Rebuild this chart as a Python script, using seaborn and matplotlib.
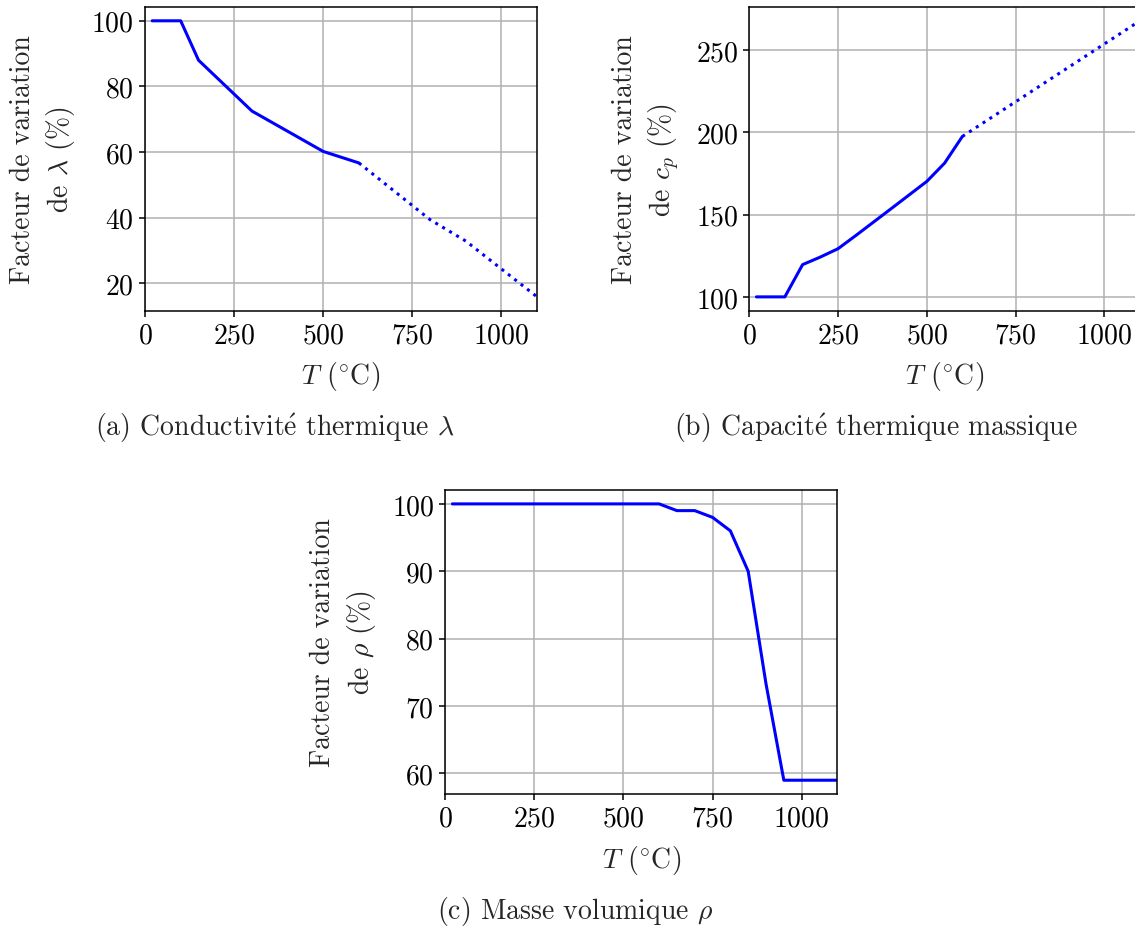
import numpy as np
import matplotlib
matplotlib.use("Agg")
import matplotlib.pyplot as plt
import seaborn as sns

# ── data (T in °C, factor in %) ─────────────────────────────────────
T_lam_solid = [20, 100, 150, 300, 500, 600]
lam_solid = [100, 100, 88, 72.5, 60.2, 56.7]
T_lam_dot = [600, 800, 900, 1100]
lam_dot = [56.7, 39.4, 32.9, 15.9]

T_cp_solid = [20, 100, 150, 200, 250, 300, 400, 500, 550, 600]
cp_solid = [100, 100, 119.6, 124.2, 129.3, 137.3, 153.7, 170.2, 181.3, 197.5]
T_cp_dot = [600, 1100]
cp_dot = [197.5, 267.8]

T_rho = [20, 600, 650, 700, 750, 800, 850, 900, 950, 1100]
rho = [100, 100, 99, 99, 98, 96, 90, 73.3, 59, 59]

x_ticks = [0, 250, 500, 750, 1000]
lam_ticks = [20, 40, 60, 80, 100]
cp_ticks = [100, 150, 200, 250]
rho_ticks = [60, 70, 80, 90, 100]

# é drawn through mathtext: cmr10 has no proper glyph for it
e_acc = r"$\mathrm{\acute{e}}$"
captions = ["(a) Conductivit" + e_acc + " thermique $\\lambda$",
            "(b) Capacit" + e_acc + " thermique massique",
            "(c) Masse volumique $\\rho$"]

# ── style ───────────────────────────────────────────────────────────
sns.set_style("ticks")
plt.rcParams["font.family"] = ["cmr10", "DejaVu Serif"]
plt.rcParams["mathtext.fontset"] = "cm"
plt.rcParams["axes.formatter.use_mathtext"] = True
plt.rcParams["font.size"] = 20
plt.rcParams["axes.linewidth"] = 1.1
plt.rcParams["axes.edgecolor"] = "black"
plt.rcParams["xtick.color"] = "black"
plt.rcParams["ytick.color"] = "black"
plt.rcParams["xtick.major.size"] = 4.5
plt.rcParams["ytick.major.size"] = 4.5
plt.rcParams["xtick.major.width"] = 1.1
plt.rcParams["ytick.major.width"] = 1.1

fig = plt.figure(figsize=(11.35, 9.29), dpi=100)
ax_a = fig.add_axes([0.1278, 0.6645, 0.3454, 0.3269])
ax_b = fig.add_axes([0.6602, 0.6645, 0.3441, 0.3269])
ax_c = fig.add_axes([0.3923, 0.1442, 0.3454, 0.3272])

lw = 2.2
sns.lineplot(x=T_lam_solid, y=lam_solid, ax=ax_a, color="blue", lw=lw)
sns.lineplot(x=T_lam_dot, y=lam_dot, ax=ax_a, color="blue", lw=lw, linestyle=":")
sns.lineplot(x=T_cp_solid, y=cp_solid, ax=ax_b, color="blue", lw=lw)
sns.lineplot(x=T_cp_dot, y=cp_dot, ax=ax_b, color="blue", lw=lw, linestyle=":")
sns.lineplot(x=T_rho, y=rho, ax=ax_c, color="blue", lw=lw)

ylabels = ["Facteur de variation\nde $\\lambda$ (%)",
           "Facteur de variation\nde $c_p$ (%)",
           "Facteur de variation\nde $\\rho$ (%)"]
yticks = [lam_ticks, cp_ticks, rho_ticks]

for ax, yl, yt in zip([ax_a, ax_b, ax_c], ylabels, yticks):
    ax.set_xlim(0, 1100)
    ax.set_xticks(x_ticks)
    ax.set_yticks(yt)
    ax.grid(True, color="#b0b0b0", lw=1.1)
    ax.set_axisbelow(True)
    ax.set_xlabel("$T$ ($^{\\circ}$C)", labelpad=8)
    ax.set_ylabel(yl, labelpad=10, linespacing=1.35)
    for s in ax.spines.values():
        s.set_visible(True)

fig.text(275 / 1135, 1 - 428 / 929, captions[0], ha="center", va="center")
fig.text(876 / 1135, 1 - 428 / 929, captions[1], ha="center", va="center")
fig.text(575 / 1135, 1 - 912 / 929, captions[2], ha="center", va="center")

fig.savefig("out.png", dpi=100)
